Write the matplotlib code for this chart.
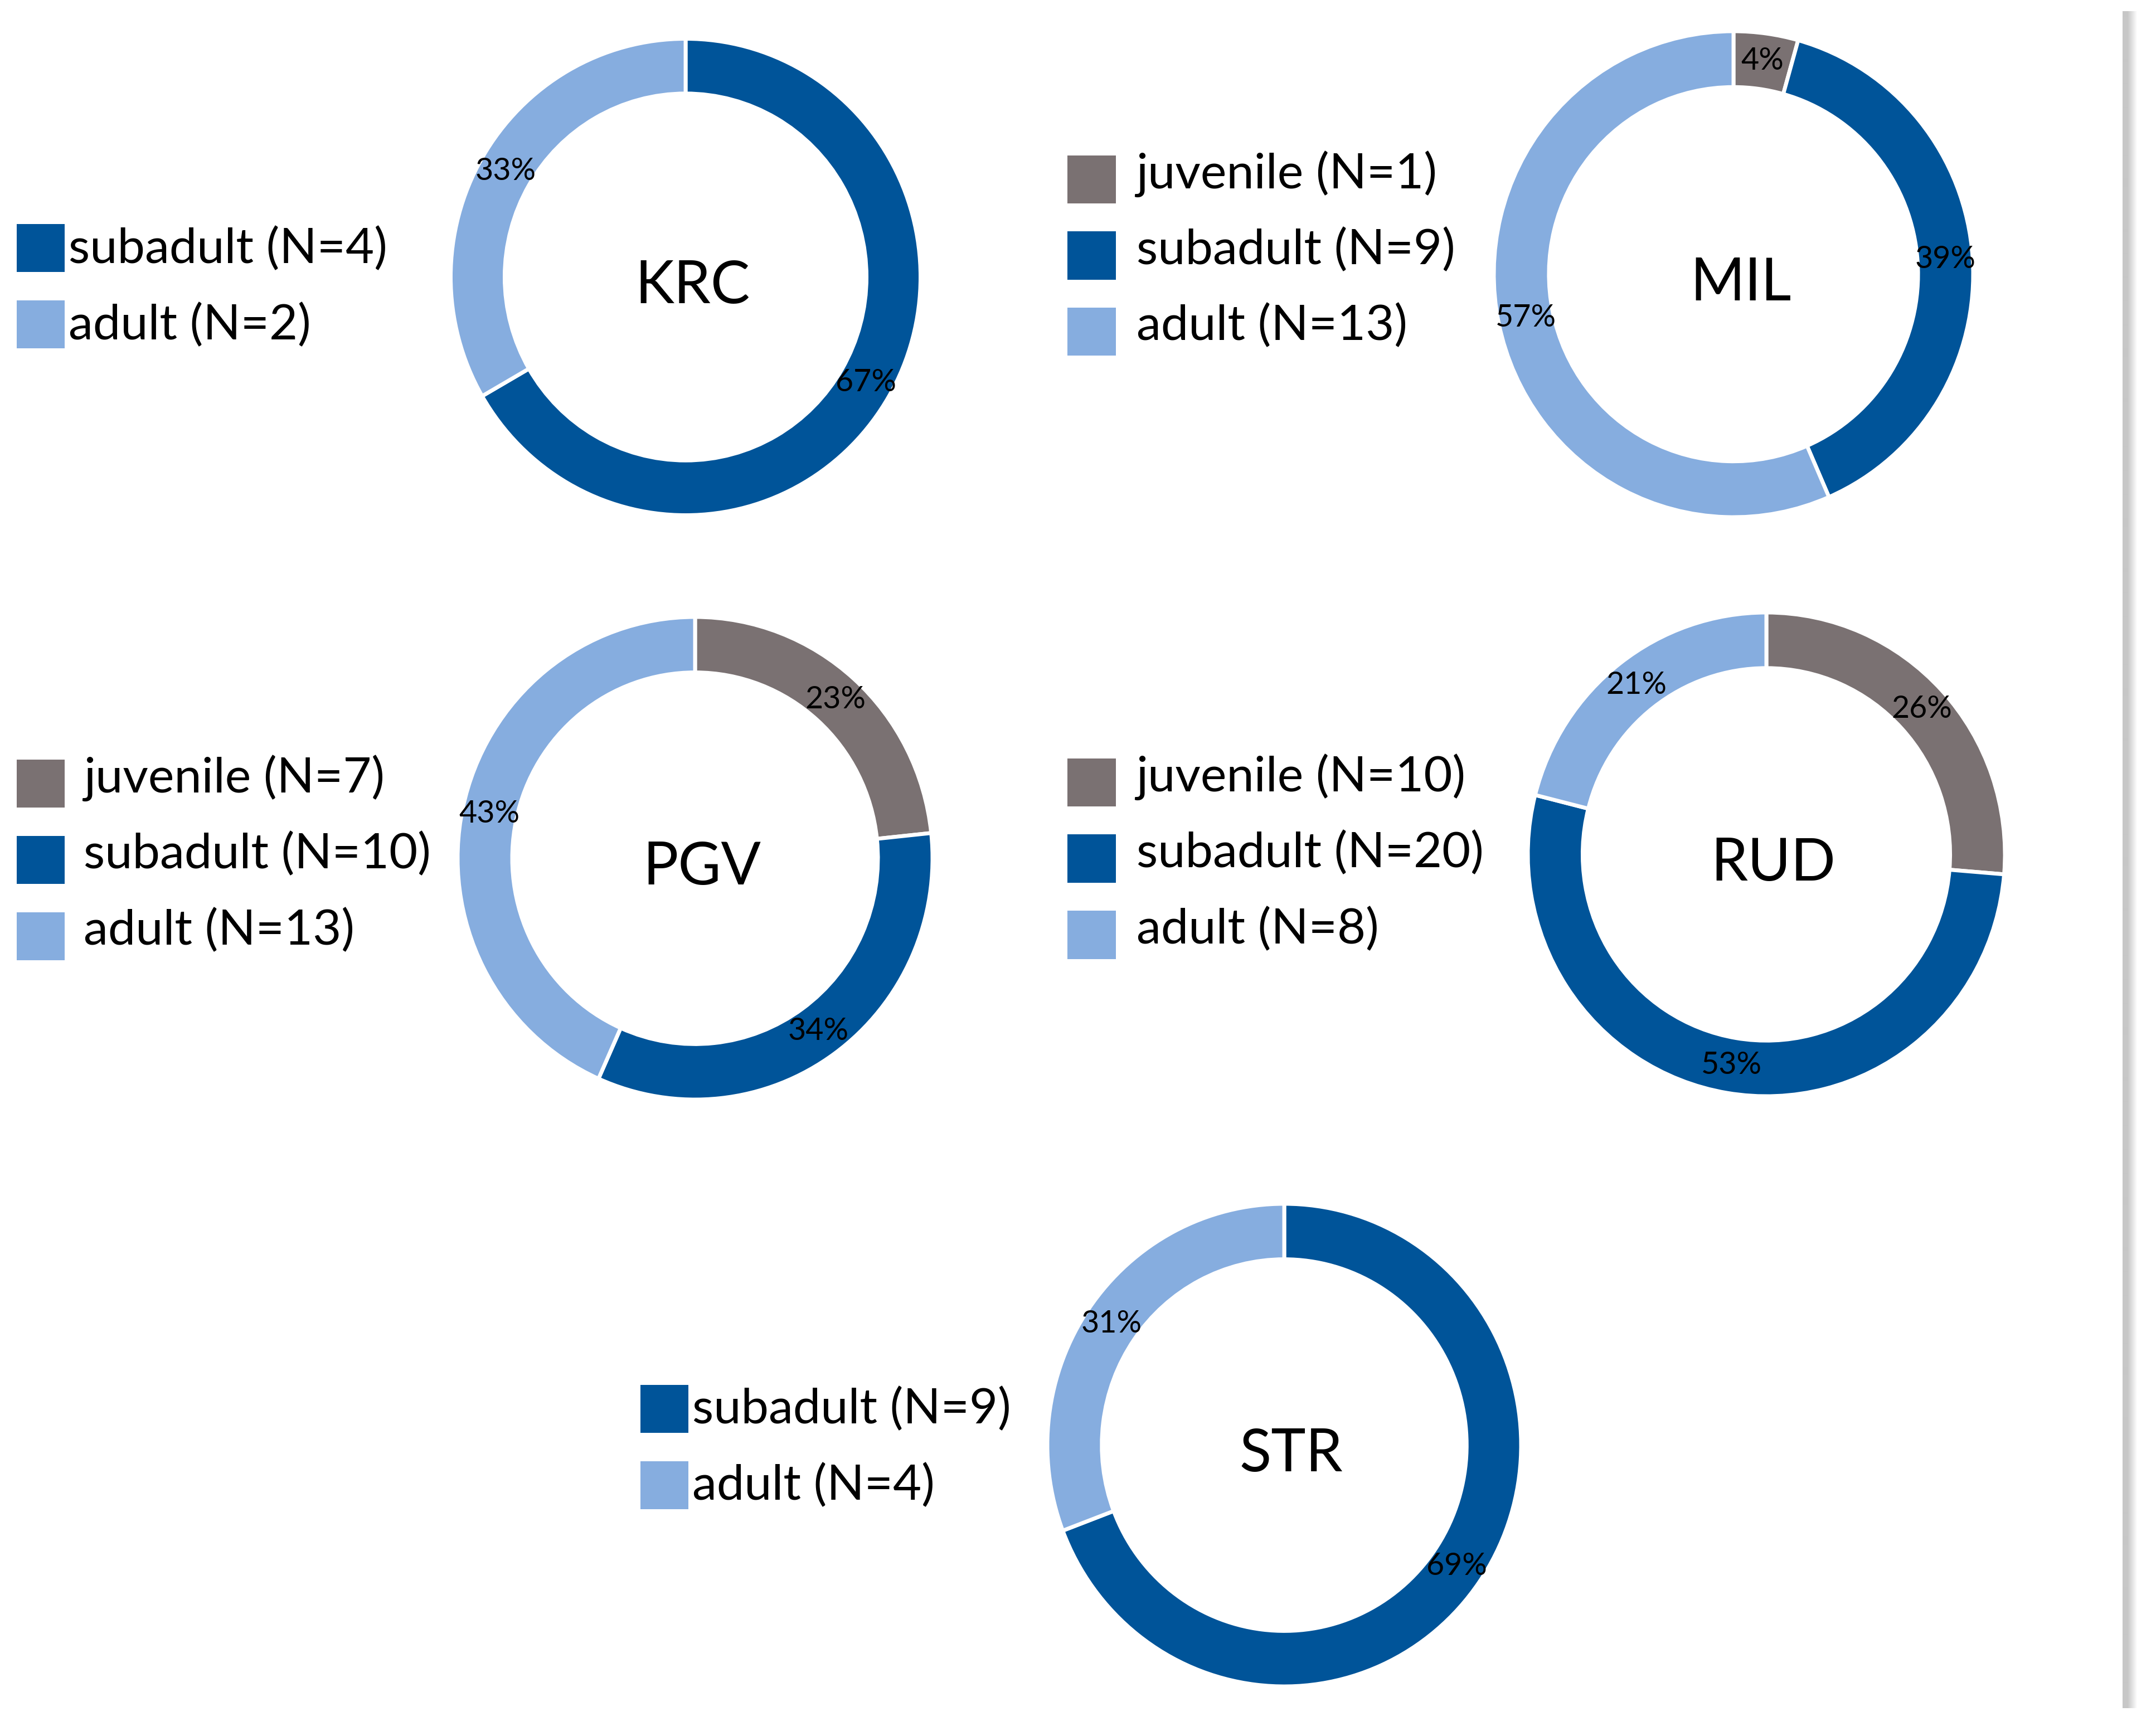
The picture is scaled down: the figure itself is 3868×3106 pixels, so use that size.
import numpy as np
import matplotlib
matplotlib.use("Agg")
import matplotlib.pyplot as plt
from matplotlib.patches import Rectangle

plt.rcParams['font.family'] = ['Lato', 'DejaVu Sans']

# data per site
sites = ["KRC", "MIL", "PGV", "RUD", "STR"]
categories = ["juvenile", "subadult", "adult"]
krc_n = [0, 4, 2]
mil_n = [1, 9, 13]
pgv_n = [7, 10, 13]
rud_n = [10, 20, 8]
str_n = [0, 9, 4]
krc_pct = ["", "67%", "33%"]
mil_pct = ["4%", "39%", "57%"]
pgv_pct = ["23%", "34%", "43%"]
rud_pct = ["26%", "53%", "21%"]
str_pct = ["", "69%", "31%"]

counts = [krc_n, mil_n, pgv_n, rud_n, str_n]
pcts = [krc_pct, mil_pct, pgv_pct, rud_pct, str_pct]
colors = ["#7A7172", "#005499", "#86ADDF"]

# layout, in pixels of the 3868 x 3106 output
W, H = 3868.0, 3106.0
centers = [(1230, 497), (3110, 492), (1247, 1540), (3169, 1533), (2304, 2593)]
radii = [(421.5, 427.5), (430, 436), (426, 433), (428, 434), (425, 433)]
s = 2.465
legend_pos = [(12 * s, 163 * s, 50 * s), (777 * s, 113 * s, 827 * s), (12 * s, 553 * s, 61 * s),
              (777 * s, 552 * s, 827 * s), (466 * s, 1008 * s, 504 * s)]
text_shift = [2, -10, -10, -10, 1]
sq = 35.0 * s
row = 55.5 * s

fig = plt.figure(figsize=(38.68, 31.06), dpi=100)

for i in range(len(sites)):
    cx, cy = centers[i]
    rx, ry = radii[i]
    ax = fig.add_axes([(cx - rx) / W, 1 - (cy + ry) / H, 2 * rx / W, 2 * ry / H])
    vals = counts[i]
    wedges, texts, autotexts = ax.pie(vals, colors=colors, startangle=90, counterclock=False,
                                      radius=1, autopct="%1.0f%%", pctdistance=0.885,
                                      wedgeprops=dict(width=0.23, edgecolor="white", linewidth=5),
                                      textprops=dict(fontsize=40, color="black"))
    for t, lab in zip(autotexts, pcts[i]):
        t.set_text(lab)
    ax.text(0.03, -0.04, sites[i], ha="center", va="center", fontsize=76)
    ax.set_aspect("auto")
    ax.set_xlim(-1, 1)
    ax.set_ylim(-1, 1)
    ax.axis("off")

    # legend
    lx, ly, tx = legend_pos[i]
    k = 0
    for j in range(len(categories)):
        if vals[j] == 0:
            continue
        top = ly + k * row
        fig.patches.append(Rectangle((lx / W, 1 - (top + sq) / H), sq / W, sq / H,
                                     transform=fig.transFigure, facecolor=colors[j],
                                     edgecolor="none"))
        fig.text(tx / W, 1 - (top + sq / 2 + text_shift[i]) / H,
                 categories[j] + " (N=" + str(vals[j]) + ")",
                 ha="left", va="center", fontsize=63.5)
        k += 1

# shaded separator on the right
lax = fig.add_axes([3808 / W, 1 - 3065 / H, 27 / W, (3065 - 20) / H])
grad = np.concatenate([np.full(9, 0.78), np.linspace(0.78, 1.0, 18)])
lax.imshow(np.tile(grad, (10, 1)), cmap="gray", vmin=0, vmax=1, aspect="auto",
           interpolation="bilinear")
lax.axis("off")

fig.savefig("out.png", dpi=100, facecolor="white")
